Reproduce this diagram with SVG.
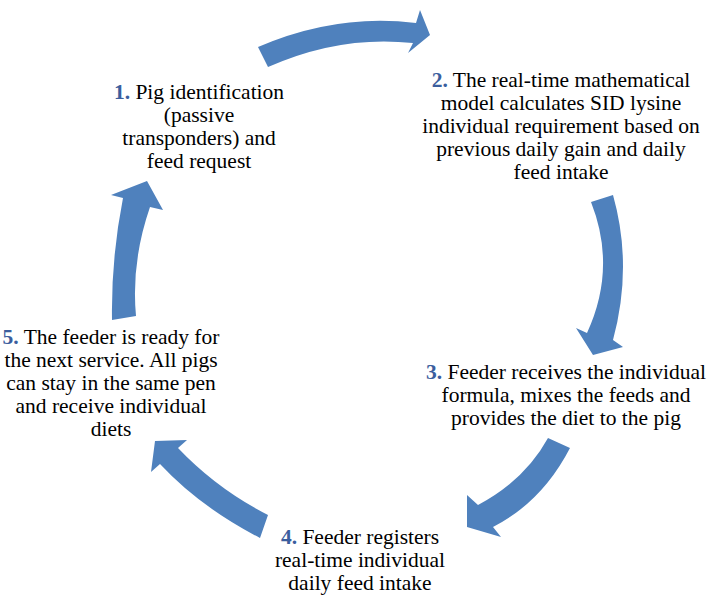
<svg xmlns="http://www.w3.org/2000/svg" width="714" height="597" viewBox="0 0 714 597">
<style>
.arr{fill:#4F81BD;stroke:none}
text{font-family:'Liberation Serif','Times New Roman',serif;font-size:21.5px;fill:#000;text-anchor:middle}
.n{font-weight:bold;fill:#3B5E9E}
</style>
<rect width="714" height="597" fill="#fff"/>
<g id="connectors">
<path id="a1" class="arr" d="M258,47 Q337,13 416,23 L420,10 L430,35 L408,53 L413,43 Q340,35 268,67 Z"/>
<path id="a2" class="arr" d="M613,195 Q633,266 613,340 L623,347 L593,355 L576,328 L587,333 Q617,268 591,202 Z"/>
<path id="a3" class="arr" d="M548,438 Q525,480 478,505 L467,495 L467,527 L501,537 L493,527 Q542,502 570,448 Z"/>
<path id="a4" class="arr" d="M268,515 Q217,489 178,448 L187,440 L155,441 L151,472 L160,464 Q200,507 260,538 Z"/>
<path id="a5" class="arr" d="M112,320 Q111,259 123,198 L111,195 L147,181 L163,210 L150,207 Q131,262 136,316 Z"/>
</g>
<g id="node1">
<text x="199" y="99"><tspan class="n">1.</tspan> Pig identification</text>
<text x="199" y="122">(passive</text>
<text x="199" y="145">transponders) and</text>
<text x="199" y="168">feed request</text>
</g>
<g id="node2">
<text x="561" y="87"><tspan class="n">2.</tspan> The real-time mathematical</text>
<text x="561" y="110">model calculates SID lysine</text>
<text x="561" y="133">individual requirement based on</text>
<text x="561" y="156">previous daily gain and daily</text>
<text x="561" y="179">feed intake</text>
</g>
<g id="node3">
<text x="566" y="379"><tspan class="n">3.</tspan> Feeder receives the individual</text>
<text x="566" y="402">formula, mixes the feeds and</text>
<text x="566" y="425">provides the diet to the pig</text>
</g>
<g id="node4">
<text x="360" y="544"><tspan class="n">4.</tspan> Feeder registers</text>
<text x="360" y="567">real-time individual</text>
<text x="360" y="590">daily feed intake</text>
</g>
<g id="node5">
<text x="111" y="344"><tspan class="n">5.</tspan> The feeder is ready for</text>
<text x="111" y="367">the next service. All pigs</text>
<text x="111" y="390">can stay in the same pen</text>
<text x="111" y="413">and receive individual</text>
<text x="111" y="436">diets</text>
</g>
</svg>
